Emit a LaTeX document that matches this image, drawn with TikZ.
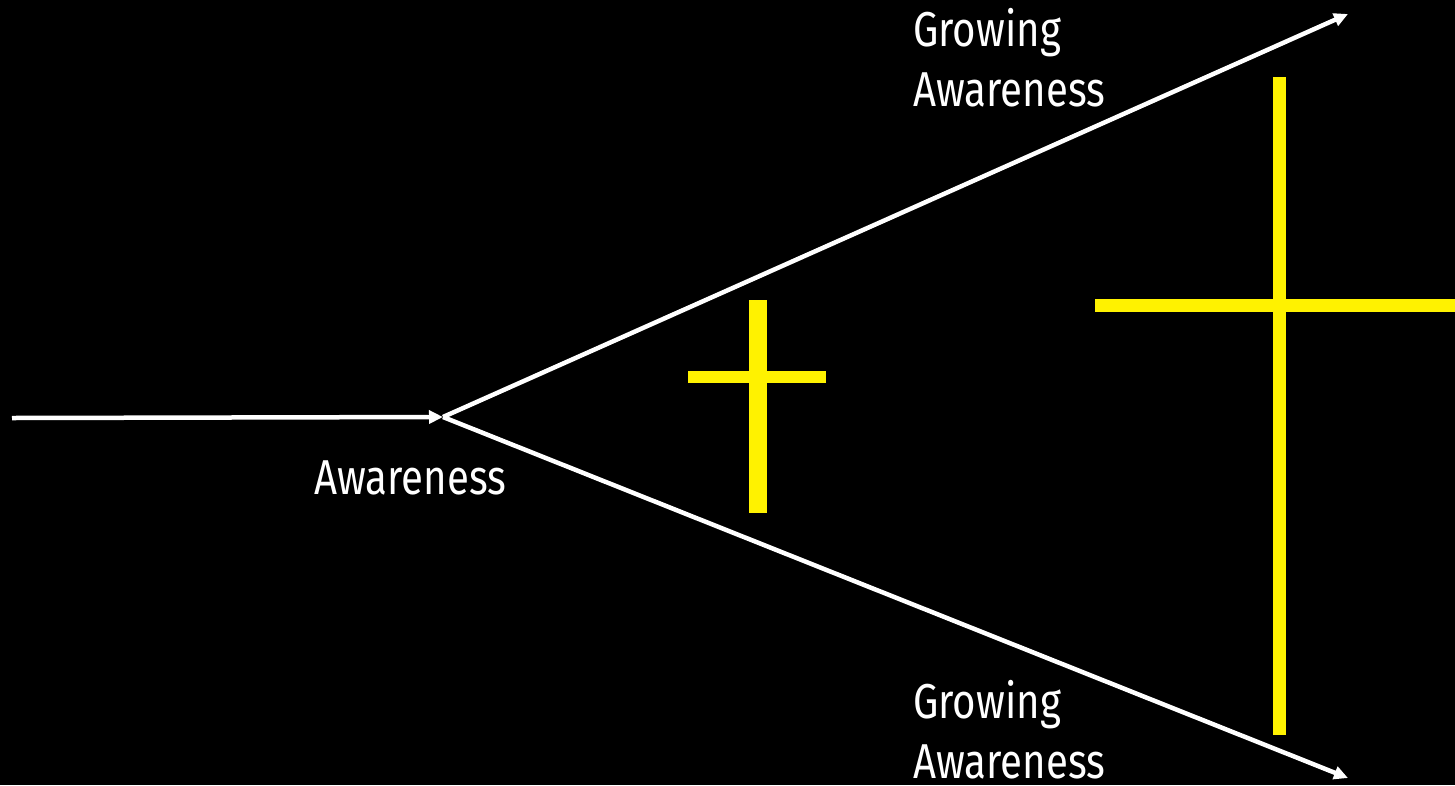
\documentclass[tikz,border=0pt]{standalone}
\usepackage{fontspec}
\setmainfont{Fira Sans}[FakeStretch=0.82]
\usetikzlibrary{arrows.meta}
\tikzset{
  flow/.style={draw=white, line width=4.5pt, -{Triangle[length=14pt,width=13pt]}},
  label/.style={text=white, font=\fontsize{49}{60}\selectfont, align=left, inner sep=0pt},
  bar/.style={draw=yellow, line cap=butt},
}
\begin{document}
\begin{tikzpicture}[x=1pt,y=-1pt]
\useasboundingbox[fill=black] (0,0) rectangle (1455,785);
\coordinate (start) at (12,418);
\coordinate (fork) at (443,417);
\coordinate (up) at (1348,14);
\coordinate (down) at (1348,778);
\draw[flow] (start) -- (fork);
\draw[flow] (fork) -- (up);
\draw[flow] (fork) -- (down);
% small cross
\draw[bar, line width=18pt] (758,300) -- (758,513);
\draw[bar, line width=12pt] (688,377) -- (826,377);
% large cross
\draw[bar, line width=13pt] (1279,77) -- (1279,735);
\draw[bar, line width=13pt] (1095,305) -- (1460,305);
\node[label, anchor=base west] (aw) at (314,494) {Awareness};
\node[label, anchor=base west] (gtop) at (913,106) {Growing\\Awareness};
\node[label, anchor=base west] (gbot) at (913,778) {Growing\\Awareness};
\end{tikzpicture}
\end{document}
